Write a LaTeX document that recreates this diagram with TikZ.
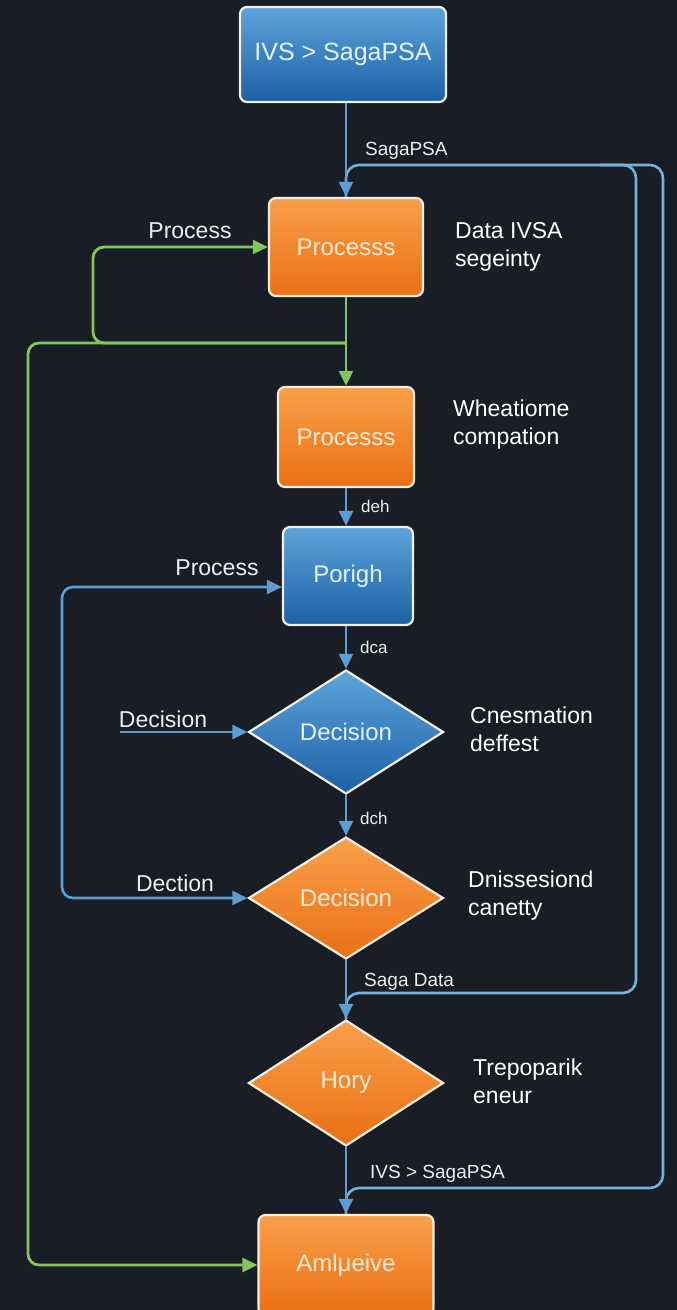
\documentclass[tikz,border=0pt]{standalone}
\usepackage{fontspec}
\setmainfont{Liberation Sans}
\usetikzlibrary{shapes.geometric,arrows.meta}

\definecolor{bg}{HTML}{191E26}
\definecolor{edge}{HTML}{F3EEE2}
\definecolor{blueT}{HTML}{5DA4DC}
\definecolor{blueB}{HTML}{1C60A4}
\definecolor{orangeT}{HTML}{F9A04A}
\definecolor{orangeB}{HTML}{EA6F14}
\definecolor{bluetext}{HTML}{E4F1FF}
\definecolor{orangetext}{HTML}{FCEBD6}
\definecolor{flowblue}{HTML}{5E9DD2}
\definecolor{loopblue}{HTML}{78B0DD}
\definecolor{flowgreen}{HTML}{82C65C}
\definecolor{labeltext}{HTML}{EDEDED}

\begin{document}
\begin{tikzpicture}[x=1pt,y=-1pt,
  box/.style={draw=edge, line width=2.2pt, rounded corners=7pt, inner sep=0pt,
    font=\fontsize{24}{28}\selectfont},
  bluebox/.style={box, top color=blueT, bottom color=blueB, text=bluetext},
  orangebox/.style={box, top color=orangeT, bottom color=orangeB, text=orangetext},
  dia/.style={diamond, draw=edge, line width=2.2pt, inner sep=0pt,
    minimum width=195pt, font=\fontsize{24}{28}\selectfont},
  bluedia/.style={dia, top color=blueT, bottom color=blueB, text=bluetext},
  orangedia/.style={dia, top color=orangeT, bottom color=orangeB, text=orangetext},
  tip/.style={-{Triangle[length=15pt,width=14pt]}},
  flow/.style={draw=flowblue, line width=2.6pt, tip},
  gflow/.style={draw=flowgreen, line width=2.8pt, rounded corners=11pt},
  loopline/.style={draw=loopblue, line width=2.6pt, rounded corners=13pt},
  arrlabel/.style={text=labeltext, anchor=west, inner sep=0pt,
    font=\fontsize{19}{22}\selectfont},
  smlabel/.style={arrlabel, font=\fontsize{17}{20}\selectfont},
  inlabel/.style={text=labeltext, inner sep=0pt, font=\fontsize{23}{26}\selectfont},
  sidelabel/.style={text=white, align=left, anchor=west, inner sep=0pt,
    font=\fontsize{23}{28}\selectfont}
]
\fill[bg] (0,0) rectangle (677,1310);
\useasboundingbox (0,0) rectangle (677,1310);
\clip (0,0) rectangle (677,1310);

% ---- process and decision nodes
\node[bluebox, minimum width=206pt, minimum height=95pt, font=\fontsize{25}{28}\selectfont]
  (top) at (343,54.5) {IVS > SagaPSA};
\node[orangebox, minimum width=154pt, minimum height=98pt] (p1) at (346,247) {Processs};
\node[orangebox, minimum width=136pt, minimum height=100pt] (p2) at (346,437) {Processs};
\node[bluebox, minimum width=130pt, minimum height=98pt] (po) at (348,576) {Porigh};
\node[bluedia, minimum height=124pt] (d1) at (346,732) {Decision};
\node[orangedia, minimum height=122pt] (d2) at (346,898) {Decision};
\node[orangedia, minimum height=126pt] (hy) at (346,1083) {Hory};
\node[orangebox, minimum width=175pt, minimum height=100pt] (am) at (346,1265) {Amlμeive};

% ---- side notes
\node[sidelabel] (n1) at (455,247) {Data IVSA\\segeinty};
\node[sidelabel] (n2) at (453,425) {Wheatiome\\compation};
\node[sidelabel] (n3) at (470,729) {Cnesmation\\deffest};
\node[sidelabel] (n4) at (468,896) {Dnissesiond\\canetty};
\node[sidelabel] (n5) at (473,1081) {Trepoparik\\eneur};

% ---- right-hand return loops
\coordinate (oT) at (663,165);
\coordinate (oB) at (663,1188);
\coordinate (iS) at (600,165);
\coordinate (iT) at (636,165);
\coordinate (iB) at (636,993);
\draw[loopline] (p1.north) -- (p1.north |- oT) -- (oT) -- (oB) -- (am.north |- oB) -- (am.north);
\draw[loopline] (iS) -- (iT) -- (iB) -- (hy.north |- iB) -- (hy.north);

% ---- green feedback lines
\coordinate (gj) at (346,343);
\coordinate (gA) at (93,343);
\coordinate (gB) at (28,343);
\draw[gflow, tip] (gj) -- (gA) -- (gA |- p1.west) -- (p1.west);
\draw[gflow, tip] (gj) -- (gB) -- (gB |- am.west) -- (am.west);
\draw[gflow, tip, rounded corners=0pt] (p1.south) -- (p2.north);
\node[inlabel] (lp1) at (190,231) {Process};

% ---- left blue loop
\coordinate (bA) at (62,587);
\draw[draw=flowblue, line width=2.6pt, rounded corners=11pt,
      {Triangle[length=15pt,width=14pt]}-{Triangle[length=15pt,width=14pt]}]
  (po.west |- bA) -- (bA) -- (bA |- d2.west) -- (d2.west);
\node[inlabel] (lp2) at (217,568) {Process};
\node[inlabel] (ld2) at (175,883) {Dection};

% ---- side input into first decision
\coordinate (dIn) at (120,732);
\draw[flow] (dIn) -- (d1.west);
\node[inlabel] (ld1) at (163,719) {Decision};

% ---- main flow
\draw[flow] (top.south -| p1.north) -- (p1.north);
\node[arrlabel] (l1) at (365,151) {SagaPSA};
\draw[flow] (p2.south) -- (p2.south |- po.north);
\node[smlabel] (l2) at (361,506) {deh};
\draw[flow] (po.south -| d1.north) -- (d1.north);
\node[smlabel] (l3) at (360,647) {dca};
\draw[flow] (d1.south) -- (d2.north);
\node[smlabel] (l4) at (360,818) {dch};
\draw[flow] (d2.south) -- (hy.north);
\node[arrlabel] (l5) at (364,982) {Saga Data};
\draw[flow] (hy.south) -- (am.north);
\node[arrlabel] (l6) at (370,1174) {IVS > SagaPSA};
\end{tikzpicture}
\end{document}
